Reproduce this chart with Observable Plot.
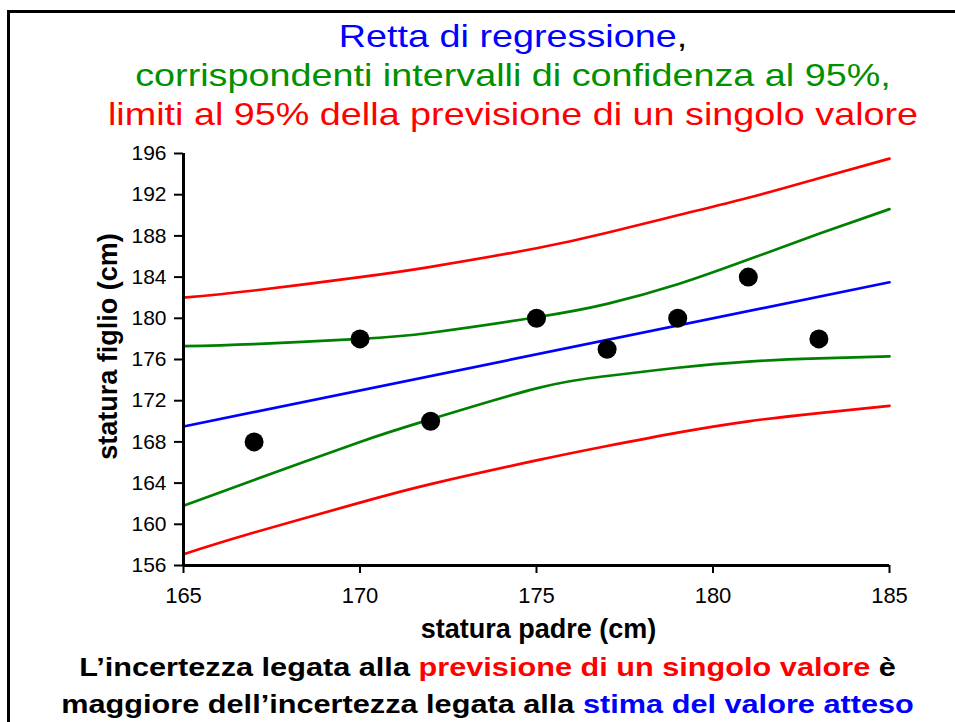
<!DOCTYPE html>
<html>
<head>
<meta charset="utf-8">
<script src="https://cdn.jsdelivr.net/npm/d3@7"></script>
<script src="https://cdn.jsdelivr.net/npm/@observablehq/plot@0.6"></script>
<style>
  html, body { margin: 0; padding: 0; background: #fff; }
  body { width: 955px; height: 722px; position: relative; overflow: hidden; font-family: "Liberation Sans", Arial, sans-serif; }
  #frame { position: absolute; left: 7px; top: 10px; width: 1000px; height: 800px; border-top: 3px solid #000; border-left: 3px solid #000; }
  #title { position: absolute; left: 0; width: 1026px; top: 17px; text-align: center; font-size: 32px; line-height: 38.8px; z-index: 2; transform: scaleX(1.18); transform-origin: 513px 0; }
  #note { position: absolute; left: 0; width: 975px; top: 649px; text-align: center; font-size: 26px; font-weight: bold; line-height: 37px; z-index: 2; transform: scaleX(1.18); transform-origin: 487.5px 0; }
  #chart { position: absolute; left: 0; top: 0; z-index: 1; }
</style>
</head>
<body>
<div id="frame"></div>
<div id="title">
  <span style="color:#0000ff">Retta di regressione</span>,<br>
  <span style="color:#009000">corrispondenti intervalli di confidenza al 95%,</span><br>
  <span style="color:#ff0000">limiti al 95% della previsione di un singolo valore</span>
</div>
<div id="chart"></div>
<div id="note">
  L’incertezza legata alla <span style="color:#ff0000">previsione di un singolo valore</span> è<br>
  maggiore dell’incertezza legata alla <span style="color:#0000ff">stima del valore atteso</span>
</div>
<script>
// observed points
const staturaPadre = [167, 170, 172, 175, 177, 179, 181, 183];
const staturaFiglio = [168, 178, 170, 180, 177, 180, 184, 178];

// regression line end points
const fitX = [165, 185];
const fitY = [169.5, 183.5];

// band curves read at these x positions
const bandX = [165, 167, 170, 172, 175, 177, 179, 181, 183, 185];
const predUpper = [182.0, 182.7, 184.0, 185.0, 186.8, 188.3, 190.0, 191.7, 193.6, 195.5];
const confUpper = [177.3, 177.5, 178.0, 178.6, 180.1, 181.4, 183.3, 185.7, 188.2, 190.6];
const confLower = [161.8, 164.3, 168.0, 170.2, 173.2, 174.4, 175.2, 175.8, 176.1, 176.3];
const predLower = [157.1, 159.2, 162.1, 163.9, 166.2, 167.6, 168.9, 170.0, 170.8, 171.5];

// tick labels
const xTicks = [165, 170, 175, 180, 185];
const yTicks = [156, 160, 164, 168, 172, 176, 180, 184, 188, 192, 196];

const xLabel = "statura padre (cm)";
const yLabel = "statura figlio (cm)";

const pts = staturaPadre.map((x, i) => ({x, y: staturaFiglio[i]}));
const fit = fitX.map((x, i) => ({x, y: fitY[i]}));
const band = (arr) => bandX.map((x, i) => ({x, y: arr[i]}));

const RED = "#ff0000", GREEN = "#008000", BLUE = "#0000ff";
const curveOpts = (color) => ({ x: "x", y: "y", stroke: color, strokeWidth: 2.7, curve: "natural" });

const chart = Plot.plot({
  width: 955,
  height: 722,
  marginLeft: 183,
  marginRight: 66,
  marginTop: 153,
  marginBottom: 157,
  style: { fontFamily: "'Liberation Sans', Arial, sans-serif", color: "#000", background: "transparent", overflow: "visible" },
  x: { domain: [165, 185] },
  y: { domain: [156, 196] },
  marks: [
    Plot.axisX(xTicks, { tickSize: 8, tickPadding: 14, fontSize: 22, strokeWidth: 2, label: null }),
    Plot.axisY(yTicks, { tickSize: 9, tickPadding: 8, fontSize: 21, strokeWidth: 2, label: null }),
    Plot.text([xLabel], { frameAnchor: "bottom", dx: 2, dy: 64, lineAnchor: "middle", fontSize: 27, fontWeight: "bold" }),
    Plot.text([yLabel], { frameAnchor: "left", rotate: -90, dx: -75, dy: -13, lineAnchor: "middle", textAnchor: "middle", fontSize: 27, fontWeight: "bold" }),
    Plot.line(band(predUpper), curveOpts(RED)),
    Plot.line(band(predLower), curveOpts(RED)),
    Plot.line(band(confUpper), curveOpts(GREEN)),
    Plot.line(band(confLower), curveOpts(GREEN)),
    Plot.line(fit, { x: "x", y: "y", stroke: BLUE, strokeWidth: 2.7 }),
    Plot.ruleX([165], { stroke: "#000", strokeWidth: 3 }),
    Plot.ruleY([156], { stroke: "#000", strokeWidth: 3 }),
    Plot.dot(pts, { x: "x", y: "y", r: 9.5, fill: "#000", stroke: "none" })
  ]
});
document.getElementById("chart").appendChild(chart);
</script>
</body>
</html>
